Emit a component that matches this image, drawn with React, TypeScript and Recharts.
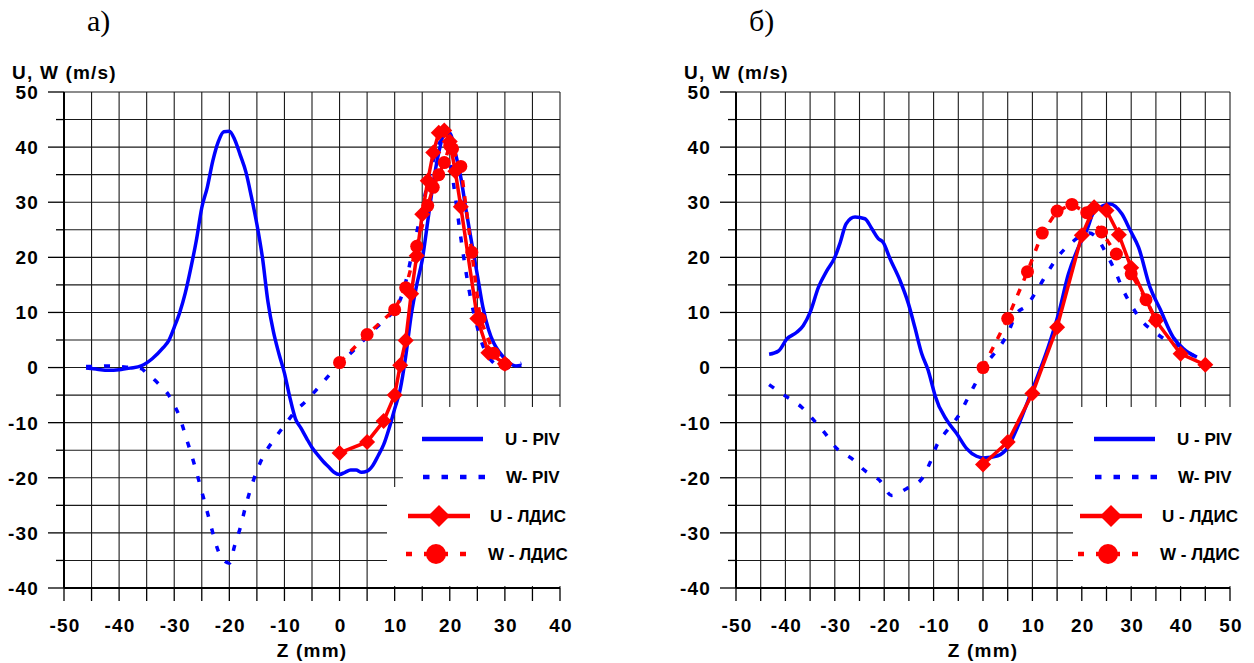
import React from 'react';
import { CartesianGrid, Legend, Line, LineChart, XAxis, YAxis } from 'recharts';

// [Z (mm), velocity (m/s)] pairs

// panel а)
const uPivA: [number, number][] = [
  [-46, -0.1], [-44, -0.3], [-42, -0.5], [-40, -0.4], [-38, -0.1], [-36, 0.3], [-34, 1.6], [-32, 3.6],
  [-31, 4.9], [-30, 7.3], [-29, 10], [-28, 13.5], [-27, 18], [-26, 23], [-25, 29], [-24, 32.7],
  [-23, 37.5], [-22, 41], [-21, 42.8], [-20, 42.9], [-19, 41.3], [-18, 38.5], [-17, 35.5], [-16, 31],
  [-15, 26], [-14, 20], [-13, 12], [-12, 6.5], [-11, 2.5], [-10, -1], [-9, -5.5], [-8, -9.3],
  [-7, -11], [-6, -12.8], [-5, -14.5], [-4, -15.8], [-3, -17], [-2, -18], [-1, -19], [0, -19.4],
  [1, -19], [2, -18.6], [3, -18.6], [4, -19], [5, -18.8], [6, -17.8], [7, -16], [8, -14],
  [9, -11], [10, -7.5], [11, -4], [12, 2], [13, 9.5], [14, 15], [15, 19.5], [16, 26.5],
  [17, 33.5], [18, 39], [19, 42.3], [20, 42.5], [21, 39], [22, 34.5], [23, 28.3], [24, 22.5],
  [25, 16.8], [26, 11], [27, 7], [28, 4.4], [29, 2.8], [30, 1.6], [31, 0.7], [32, 0.3], [33, 0.4],
];
const wPivA: [number, number][] = [
  [-46, 0.2], [-44, 0.2], [-42, 0.3], [-40, 0.2], [-38, 0], [-36, -0.2], [-35, -1], [-33, -2.8],
  [-31, -5], [-30, -6.8], [-29, -9], [-28, -12.2], [-27, -15.4], [-26, -18.8], [-25, -22.5], [-24, -26.2],
  [-23, -30], [-22, -33.3], [-21, -35], [-20, -35.5], [-19, -32.2], [-18, -29], [-17, -25], [-16, -21.6],
  [-15, -18.7], [-14, -16.4], [-12, -13.2], [-10, -10.5], [-8, -7.9], [-6, -6], [-4, -3.8], [-2, -1.5],
  [0, 0.7], [2, 2.6], [4, 4.6], [6, 6.6], [8, 8.5], [10, 10.5], [11, 12.3], [12, 15.5],
  [13, 20], [14, 24.5], [15, 29], [16, 33.5], [17, 37.5], [18, 40.5], [19, 41.5], [20, 38],
  [21, 31], [22, 23.6], [23, 17], [24, 11.5], [25, 7.3], [26, 4], [27, 2], [28, 0.8],
  [29, 0], [30, -0.2], [31, 0.2], [32, 0.5], [33, 0.8],
];
const uLdisA: [number, number][] = [
  [0, -15.5], [5, -13.5], [8, -9.7], [10, -5], [11, 0.4], [12, 4.9], [13, 13.4], [14, 20.3],
  [15, 27.8], [16, 33.9], [17, 39], [18, 42.6], [19, 43], [20, 41], [21, 35.6], [22, 29.2],
  [25, 8.9], [27, 2.7], [30, 0.7],
];
const wLdisA: [number, number][] = [
  [0, 0.9], [5, 6], [10, 10.5], [12, 14.5], [14, 22], [16, 29.4], [17, 32.7], [18, 35],
  [19, 37.2], [20, 40.3], [20.5, 39.7], [22, 36.5], [24, 20.9], [25.5, 8.9], [28, 2.6], [30, 0.6],
];

// panel б)
const uPivB: [number, number][] = [
  [-43.3, 2.4], [-41.4, 3], [-39.7, 5.2], [-37.7, 6.4], [-36.4, 7.6], [-35, 10], [-33.3, 14.6], [-31.6, 17.6],
  [-30, 20], [-28.9, 22.7], [-27.7, 26.1], [-25.9, 27.3], [-23.9, 27], [-22.5, 25.2], [-21.2, 23.4], [-20.2, 22.7],
  [-18.8, 19.7], [-16.8, 15.8], [-15.1, 11.6], [-13.8, 7.3], [-12.4, 2.5], [-11.1, -0.5], [-10.1, -3.8], [-9.7, -5.1],
  [-7.3, -9.6], [-5.3, -12], [-3.3, -14.7], [-1.3, -16.1], [0, -16.4], [3, -16], [5, -14.5], [7, -10.8],
  [9.9, -4.2], [13.2, 3.7], [15.3, 9.8], [17.3, 17], [19.3, 21.8], [21, 24.9], [22.4, 28.2], [23.7, 29.1],
  [25.7, 29.7], [28.1, 27.9], [29.8, 24.9], [31.5, 21.8], [33.8, 14.6], [35.8, 10.7], [38.5, 5.5], [40.6, 3.4],
  [43.3, 1.9],
];
const wPivB: [number, number][] = [
  [-43.3, -3.1], [-40.1, -5.1], [-36.7, -7.2], [-34.3, -9.5], [-32, -11.9], [-29.6, -14.7], [-26.6, -16.5], [-23.9, -18.7],
  [-20.9, -20.5], [-18.5, -23.2], [-15.5, -22], [-12.4, -20.2], [-10.7, -17.2], [-9.4, -14.2], [-7, -11.1], [-4.7, -8.4],
  [-3, -5.4], [-1.3, -2.5], [0.4, 0.4], [2.8, 3.1], [4.8, 5.8], [6.8, 9.8], [8.8, 11.2], [10.9, 14],
  [12.9, 17], [14.9, 19.8], [17.6, 22.4], [20, 24], [21.5, 24.4], [23, 23.6], [25, 20.6], [26.7, 17.6],
  [28.4, 14], [30.1, 11.2], [32.1, 8.5], [34.8, 6.4], [37.2, 4.9], [40.2, 3.4], [42.9, 2],
];
const uLdisB: [number, number][] = [
  [0, -17.6], [5, -13.5], [10, -4.7], [15, 7.3], [20, 24], [22.5, 29.1], [25, 28.5], [27.5, 24.1],
  [30, 18.1], [35, 8.5], [40, 2.5], [45, 0.5],
];
const wLdisB: [number, number][] = [
  [0, 0], [5, 8.9], [9, 17.4], [12, 24.4], [15, 28.4], [18, 29.6], [21, 28.1], [24, 24.6],
  [27, 20.6], [30, 17], [33, 12.3], [35, 8.7],
];

const yTicks = [-40, -35, -30, -25, -20, -15, -10, -5, 0, 5, 10, 15, 20, 25, 30, 35, 40, 45, 50];
const zTicksA = [-50, -45, -40, -35, -30, -25, -20, -15, -10, -5, 0, 5, 10, 15, 20, 25, 30, 35, 40];
const zTicksB = [-50, -45, -40, -35, -30, -25, -20, -15, -10, -5, 0, 5, 10, 15, 20, 25, 30, 35, 40, 45, 50];

const names = ['U - PIV', 'W- PIV', 'U - ЛДИС', 'W - ЛДИС'];

const BLUE = '#0000ff';
const RED = '#ff0000';
const FONT = "'Liberation Sans', Arial, sans-serif";
const axisText = { fontFamily: FONT, fontWeight: 700, fontSize: 19, letterSpacing: 1.2, fill: '#000' } as const;

const pts = (arr: [number, number][]) => arr.map(([z, v]) => ({ z, v }));

const YTick = (props: any) => {
  const { x, y, payload } = props;
  const major = payload.value % 10 === 0;
  return (
    <g>
      <line x1={x - (major ? 16 : 8)} x2={x} y1={y} y2={y} stroke="#000" strokeWidth={1.3} />
      {major && (
        <text x={x - 25} y={y} dy="0.36em" textAnchor="end" {...axisText}>
          {payload.value}
        </text>
      )}
    </g>
  );
};

const XTick = (props: any) => {
  const { x, y, payload } = props;
  const major = payload.value % 10 === 0;
  return (
    <g>
      <line x1={x} x2={x} y1={y} y2={y + 13} stroke="#000" strokeWidth={1.3} />
      {major && (
        <text x={x + 1} y={y + 44} textAnchor="middle" {...axisText}>
          {payload.value}
        </text>
      )}
    </g>
  );
};

const diamond = (p: any) => {
  if (p.cx == null || p.cy == null) return <g key={p.index} />;
  const { cx, cy } = p;
  return <polygon key={p.index} points={`${cx},${cy - 8} ${cx + 8},${cy} ${cx},${cy + 8} ${cx - 8},${cy}`} fill={RED} />;
};

const circle = (p: any) => {
  if (p.cx == null || p.cy == null) return <g key={p.index} />;
  return <circle key={p.index} cx={p.cx} cy={p.cy} r={6.5} fill={RED} />;
};

const LegendBox = ({ boxX, ext }: any) => {
  const txt = { fontFamily: FONT, fontWeight: 700, fontSize: 17, fill: '#000' } as const;
  return (
    <svg width={175} height={179} style={{ overflow: 'visible', display: 'block' }}>
      <rect x={boxX} y={0} width={175 - boxX} height={179} fill="#fff" />
      {ext && <rect x={0} y={80} width={boxX} height={99} fill="#fff" />}
      <line x1={35} x2={96} y1={32} y2={32} stroke={BLUE} strokeWidth={4.5} />
      <text x={118} y={38} {...txt}>{names[0]}</text>
      <line x1={36} x2={98} y1={70} y2={70} stroke={BLUE} strokeWidth={4.5} strokeDasharray="6.5 12" />
      <text x={119} y={76} {...txt}>{names[1]}</text>
      <line x1={21} x2={83} y1={109} y2={109} stroke={RED} strokeWidth={4.5} />
      <polygon points="52,98 63,109 52,120 41,109" fill={RED} />
      <text x={103} y={115} {...txt}>{names[2]}</text>
      <line x1={19} x2={81} y1={147} y2={147} stroke={RED} strokeWidth={4.5} strokeDasharray="6 12" />
      <circle cx={49} cy={147} r={10} fill={RED} />
      <text x={101} y={153} {...txt}>{names[3]}</text>
    </svg>
  );
};

interface PanelProps {
  left: number;
  width: number;
  rightMargin: number;
  zDomain: [number, number];
  zTicks: number[];
  title: string;
  titleX: number;
  uPiv: [number, number][];
  wPiv: [number, number][];
  uLdis: [number, number][];
  wLdis: [number, number][];
  boxX: number;
  ext: boolean;
}

function Panel(p: PanelProps) {
  return (
    <div style={{ position: 'absolute', left: p.left, top: 0, width: p.width, height: 663 }}>
      <div style={{ position: 'absolute', left: p.titleX, top: 4, fontFamily: "'Liberation Serif', 'Times New Roman', serif", fontSize: 30 }}>
        {p.title}
      </div>
      <LineChart width={p.width} height={663} margin={{ top: 92, right: p.rightMargin, left: 0, bottom: 0 }}>
        <CartesianGrid stroke="#1a1a1a" strokeWidth={1.1} />
        <XAxis
          type="number"
          dataKey="z"
          domain={p.zDomain}
          ticks={p.zTicks}
          interval={0}
          allowDataOverflow
          height={75}
          tickLine={false}
          tickSize={0}
          tickMargin={0}
          tick={(t: any) => <XTick {...t} />}
          axisLine={{ stroke: '#000', strokeWidth: 2 }}
          label={{
            content: (l: any) => (
              <text x={l.viewBox.x + l.viewBox.width / 2} y={l.viewBox.y + 69} textAnchor="middle" {...axisText}>
                Z (mm)
              </text>
            ),
          }}
        />
        <YAxis
          type="number"
          domain={[-40, 50]}
          ticks={yTicks}
          interval={0}
          allowDataOverflow
          width={64}
          tickLine={false}
          tickSize={0}
          tickMargin={0}
          tick={(t: any) => <YTick {...t} />}
          axisLine={{ stroke: '#000', strokeWidth: 2 }}
          label={{
            content: (l: any) => (
              <text x={l.viewBox.x + 12} y={l.viewBox.y - 13} {...axisText}>
                U, W (m/s)
              </text>
            ),
          }}
        />
        <Line data={pts(p.uPiv)} dataKey="v" name={names[0]} type="monotone" stroke={BLUE} strokeWidth={3.5} dot={false} activeDot={false} isAnimationActive={false} />
        <Line data={pts(p.wPiv)} dataKey="v" name={names[1]} type="monotone" stroke={BLUE} strokeWidth={3.5} strokeDasharray="6 12" dot={false} activeDot={false} isAnimationActive={false} />
        <Line data={pts(p.uLdis)} dataKey="v" name={names[2]} type="linear" stroke={RED} strokeWidth={3.5} dot={diamond} activeDot={false} isAnimationActive={false} />
        <Line data={pts(p.wLdis)} dataKey="v" name={names[3]} type="linear" stroke={RED} strokeWidth={3.5} strokeDasharray="7 9" dot={circle} activeDot={false} isAnimationActive={false} />
        <Legend
          layout="horizontal"
          align="center"
          verticalAlign="middle"
          wrapperStyle={{ left: 387, top: 407, width: 175, height: 179 }}
          content={() => <LegendBox boxX={p.boxX} ext={p.ext} />}
        />
      </LineChart>
    </div>
  );
}

export default function App() {
  return (
    <div style={{ position: 'relative', width: 1254, height: 663, background: '#fff', overflow: 'hidden' }}>
      <style>{'body{margin:0}'}</style>
      <Panel left={0} width={600} rightMargin={40} zDomain={[-50, 40]} zTicks={zTicksA} title="а)" titleX={87}
        uPiv={uPivA} wPiv={wPivA} uLdis={uLdisA} wLdis={wLdisA} boxX={16} ext />
      <Panel left={672} width={582} rightMargin={24} zDomain={[-50, 50]} zTicks={zTicksB} title="б)" titleX={77}
        uPiv={uPivB} wPiv={wPivB} uLdis={uLdisB} wLdis={wLdisB} boxX={14} ext={false} />
    </div>
  );
}
